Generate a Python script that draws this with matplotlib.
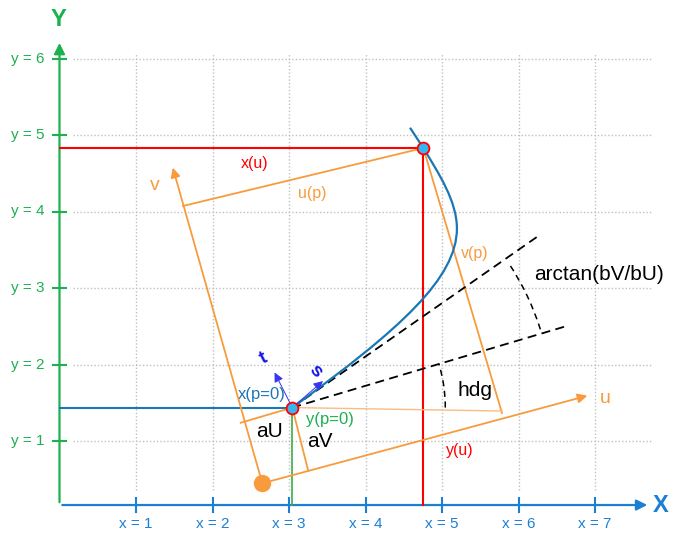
import matplotlib
matplotlib.use("Agg")
import matplotlib.pyplot as plt
from matplotlib.path import Path
from matplotlib.patches import PathPatch, Arc

plt.rcParams['font.family'] = ['Liberation Sans', 'DejaVu Sans']

# tick values and labels
x_ticks = [1, 2, 3, 4, 5, 6, 7]
x_tick_labels = ["x = 1", "x = 2", "x = 3", "x = 4", "x = 5", "x = 6", "x = 7"]
y_ticks = [1, 2, 3, 4, 5, 6]
y_tick_labels = ["y = 1", "y = 2", "y = 3", "y = 4", "y = 5", "y = 6"]

# geometry (x/y units)
start_pt = (3.043, 1.437)      # x(p=0), y(p=0)
end_pt = (4.756, 4.830)        # point at p
uv_origin = (2.651, 0.447)     # origin of the u/v frame
u_tip = (6.935, 1.601)
v_tip = (1.471, 4.608)
up_foot = (1.614, 4.072)       # u(p) projection on v axis
vp_foot = (5.784, 1.366)       # v(p) projection on u axis
aU_foot = (2.369, 1.239)
aV_foot = (3.252, 0.608)
hdg_line_end = (6.630, 2.503)
tangent_line_end = (6.259, 3.680)
ref_line_end = (5.784, 1.392)
s_tip = (3.471, 1.807)
t_tip = (2.795, 1.928)

# curve as cubic bezier control points
curve_ctrl = [(3.043, 1.437), (4.459, 2.464), (5.195, 3.130), (5.195, 3.780),
              (5.195, 4.130), (4.962, 4.491), (4.756, 4.830), (4.582, 5.095)]

axis_y = 0.163

orange = "#F89B3C"
curve_blue = "#1A77B5"
axis_blue = "#1B7FD4"
green = "#1DB04F"
red = "#FF0000"

fig = plt.figure(figsize=(6.82, 5.39), dpi=100)
ax = fig.add_axes([0, 0, 1, 1])
ax.set_xlim(-59.5 / 76.5, (682 - 59.5) / 76.5)
ax.set_ylim((517.5 - 539) / 76.5, 517.5 / 76.5)
ax.axis('off')

# grid
for xv in x_ticks:
    ax.plot([xv, xv], [0.36, 6.06], color="#C0C0C0", lw=1, ls=(0, (1, 1.5)), zorder=1)
for yv in y_ticks:
    ax.plot([0.18, 7.75], [yv, yv], color="#C0C0C0", lw=1, ls=(0, (1, 1.5)), zorder=1)

# axes
ax.annotate("", xy=(7.72, axis_y), xytext=(0, axis_y),
            arrowprops=dict(arrowstyle='-|>', color=axis_blue, lw=1.6, mutation_scale=16), zorder=3)
ax.annotate("", xy=(0, 6.24), xytext=(0, axis_y),
            arrowprops=dict(arrowstyle='-|>', color=green, lw=1.6, mutation_scale=16), zorder=3)
for xv, lab in zip(x_ticks, x_tick_labels):
    ax.plot([xv, xv], [axis_y - 0.09, axis_y + 0.09], color=axis_blue, lw=1.5, zorder=3)
    ax.text(xv, -0.085, lab, color=axis_blue, fontsize=11, ha='center', va='center')
for yv, lab in zip(y_ticks, y_tick_labels):
    ax.plot([-0.09, 0.09], [yv, yv], color=green, lw=1.5, zorder=3)
    ax.text(-0.2, yv, lab, color=green, fontsize=11, ha='right', va='center')
ax.text(7.86, axis_y, "X", color=axis_blue, fontsize=17, fontweight='bold', ha='center', va='center')
ax.text(-0.007, 6.51, "Y", color=green, fontsize=17, fontweight='bold', ha='center', va='center')

# red projections of end point
ax.plot([0, end_pt[0]], [end_pt[1], end_pt[1]], color=red, lw=1.5, zorder=4)
ax.plot([end_pt[0], end_pt[0]], [end_pt[1], axis_y], color=red, lw=1.5, zorder=4)
# blue / green projections of start point
ax.plot([0, start_pt[0]], [start_pt[1], start_pt[1]], color=curve_blue, lw=1.5, zorder=4)
ax.plot([start_pt[0], start_pt[0]], [start_pt[1], axis_y], color="#3DAA4A", lw=1.2, zorder=4)

# u/v frame
ax.annotate("", xy=u_tip, xytext=uv_origin,
            arrowprops=dict(arrowstyle='-|>', color=orange, lw=1.3, mutation_scale=14), zorder=4)
ax.annotate("", xy=v_tip, xytext=uv_origin,
            arrowprops=dict(arrowstyle='-|>', color=orange, lw=1.3, mutation_scale=14), zorder=4)
ax.plot([up_foot[0], end_pt[0]], [up_foot[1], end_pt[1]], color=orange, lw=1.3, zorder=4)
ax.plot([end_pt[0], vp_foot[0]], [end_pt[1], vp_foot[1]], color=orange, lw=1.3, zorder=4)
ax.plot([aU_foot[0], start_pt[0]], [aU_foot[1], start_pt[1]], color=orange, lw=1.3, zorder=4)
ax.plot([start_pt[0], aV_foot[0]], [start_pt[1], aV_foot[1]], color=orange, lw=1.3, zorder=4)
ax.plot([start_pt[0], ref_line_end[0]], [start_pt[1], ref_line_end[1]], color="#F9BC84", lw=1, zorder=4)
ax.plot(*uv_origin, 'o', color=orange, ms=11.5, zorder=6)

# dashed heading lines and angle arcs
ax.plot([start_pt[0], hdg_line_end[0]], [start_pt[1], hdg_line_end[1]], color='black', lw=1.3, ls=(0, (5, 3)), zorder=5)
ax.plot([start_pt[0], tangent_line_end[0]], [start_pt[1], tangent_line_end[1]], color='black', lw=1.3, ls=(0, (5, 3)), zorder=5)
ax.add_patch(Arc(start_pt, 2 * 3.40, 2 * 3.40, theta1=17.5, theta2=33.6, color='black', lw=1.1, ls=(0, (4, 3)), zorder=5))
ax.add_patch(Arc(start_pt, 2 * 2.0, 2 * 2.0, theta1=0, theta2=16.7, color='black', lw=1.1, ls=(0, (4, 3)), zorder=5))

# curve
codes = [Path.MOVETO] + [Path.CURVE4] * 6 + [Path.LINETO]
ax.add_patch(PathPatch(Path(curve_ctrl, codes), fill=False, edgecolor=curve_blue, lw=1.6, zorder=5))

# s / t arrows
for tip in (s_tip, t_tip):
    ax.annotate("", xy=tip, xytext=start_pt,
                arrowprops=dict(arrowstyle='-|>', color="#3535F2", lw=0.7, mutation_scale=14), zorder=6)
ax.text(3.349, 1.919, "s", color="#1515E8", fontsize=14, fontweight='bold', rotation=-49, ha='center', va='center')
ax.text(2.673, 2.072, "t", color="#1515E8", fontsize=14, fontweight='bold', rotation=27, ha='center', va='center')

# point markers
for p in (start_pt, end_pt):
    ax.plot(*p, 'o', ms=8.5, mfc="#35B6F0", mec=red, mew=1.3, zorder=7)

# labels
ax.text(2.552, 4.630, "x(u)", color=red, fontsize=11.5, ha='center', va='center')
ax.text(5.235, 0.882, "y(u)", color=red, fontsize=11.5, ha='center', va='center')
ax.text(3.305, 4.238, "u(p)", color=orange, fontsize=11.5, ha='center', va='center')
ax.text(5.431, 3.454, "v(p)", color=orange, fontsize=11.5, ha='center', va='center')
ax.text(1.248, 4.346, "v", color=orange, fontsize=14, ha='center', va='center')
ax.text(7.131, 1.562, "u", color=orange, fontsize=14, ha='center', va='center')
ax.text(7.052, 3.170, "arctan(bV/bU)", color='black', fontsize=15, ha='center', va='center')
ax.text(5.427, 1.658, "hdg", color='black', fontsize=15, ha='center', va='center')
ax.text(2.742, 1.122, "aU", color='black', fontsize=15, ha='center', va='center')
ax.text(3.405, 0.991, "aV", color='black', fontsize=15, ha='center', va='center')
ax.text(2.638, 1.614, "x(p=0)", color=curve_blue, fontsize=12, ha='center', va='center')
ax.text(3.536, 1.275, "y(p=0)", color=green, fontsize=12, ha='center', va='center')

fig.savefig("out.png", dpi=100)
